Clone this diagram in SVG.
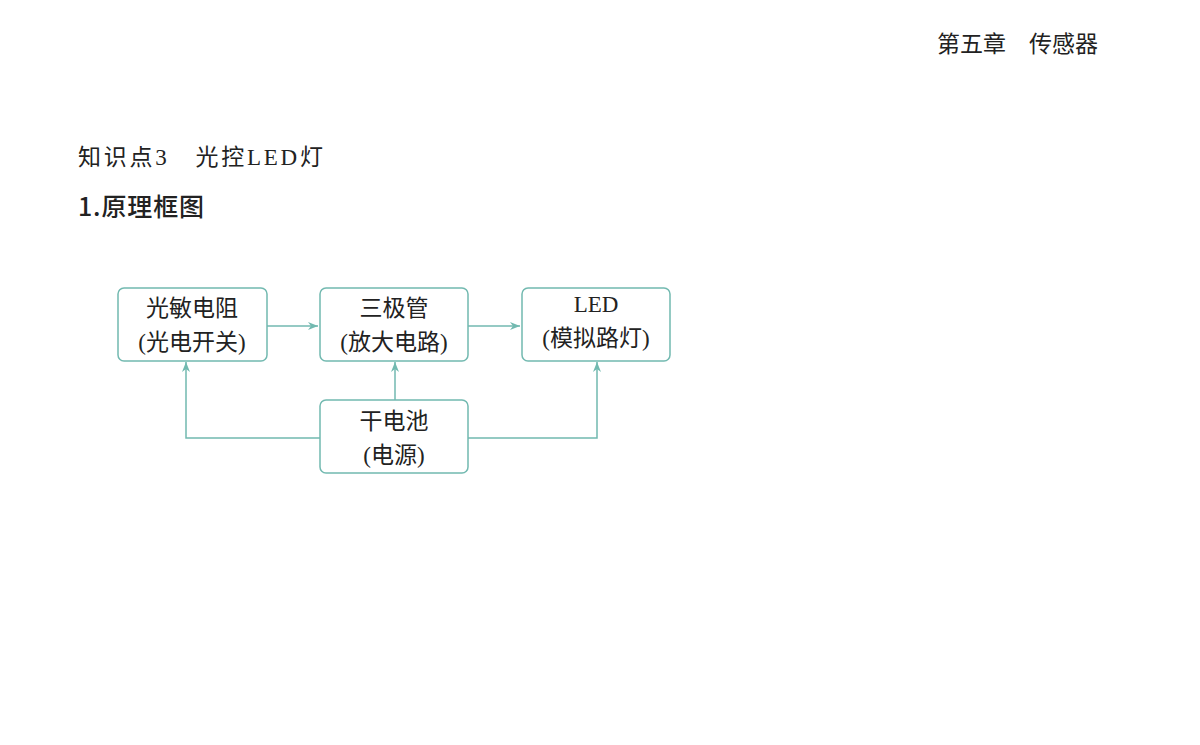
<svg xmlns="http://www.w3.org/2000/svg" width="1200" height="745" viewBox="0 0 1200 745">
<defs>
<style>
.box{fill:#fff;stroke:#72b9b0;stroke-width:1.5}
.t{font-family:"Liberation Serif","Noto Sans CJK SC",serif;font-size:23px;fill:#222;text-anchor:middle}
.c{fill:none;stroke:#72b9b0;stroke-width:1.5}
</style>
<marker id="a" viewBox="0 0 10 10" refX="10" refY="5" markerWidth="10" markerHeight="10" orient="auto" markerUnits="userSpaceOnUse"><path d="M0,1 L10,5 L0,9 L3,5Z" fill="#72b9b0"/></marker>
</defs>
<rect width="1200" height="745" fill="#fff"/>
<text x="1098" y="52" text-anchor="end" font-family="Noto Sans CJK SC,sans-serif" font-size="23" fill="#222">第五章　传感器</text>
<text x="78" y="165" font-family="Liberation Serif,Noto Sans CJK SC,serif" font-size="23" fill="#222" textLength="245">知识点3　光控LED灯</text>
<text x="78" y="216" font-family="Noto Sans CJK SC,sans-serif" font-size="25" font-weight="500" fill="#222" textLength="126">1.原理框图</text>
<g id="connectors">
<path class="c" d="M267,326 H318" marker-end="url(#a)"/>
<path class="c" d="M468,326 H520" marker-end="url(#a)"/>
<path class="c" d="M395,400 V362" marker-end="url(#a)"/>
<path class="c" d="M320,438 H186 V362" marker-end="url(#a)"/>
<path class="c" d="M468,438 H597 V362" marker-end="url(#a)"/>
</g>
<g id="n1"><rect class="box" x="118" y="288" width="149" height="73" rx="6"/><text class="t" x="192" y="316">光敏电阻</text><text class="t" x="192" y="350">(光电开关)</text></g>
<g id="n2"><rect class="box" x="320" y="288" width="148" height="73" rx="6"/><text class="t" x="394" y="316">三极管</text><text class="t" x="394" y="350">(放大电路)</text></g>
<g id="n3"><rect class="box" x="522" y="288" width="148" height="73" rx="6"/><text class="t" x="596" y="312">LED</text><text class="t" x="596" y="346">(模拟路灯)</text></g>
<g id="n4"><rect class="box" x="320" y="400" width="148" height="73" rx="6"/><text class="t" x="394" y="429">干电池</text><text class="t" x="394" y="463">(电源)</text></g>
</svg>
